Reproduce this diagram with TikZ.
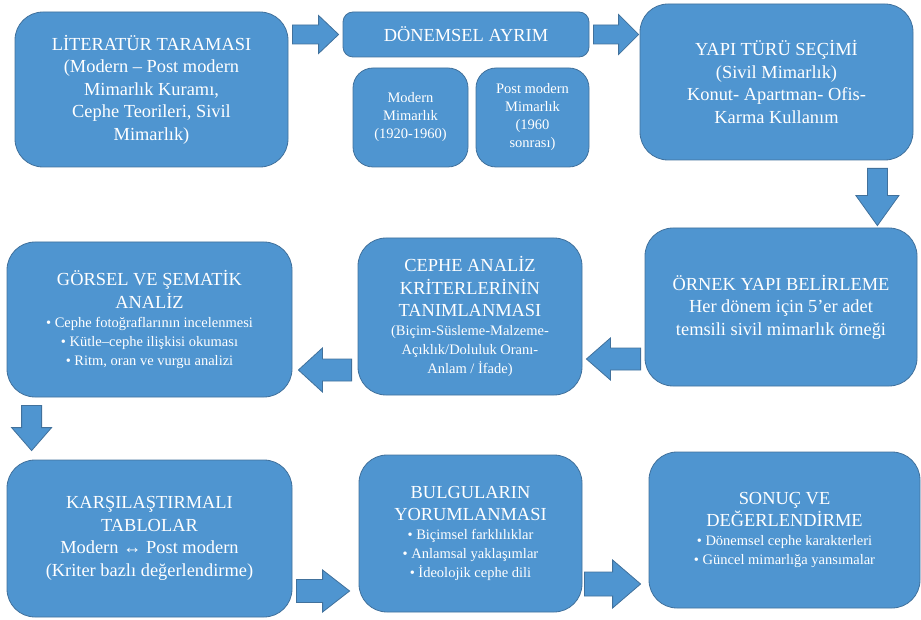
\documentclass[tikz,border=0pt]{standalone}
\usepackage{fontspec}
\setmainfont{Liberation Serif}
\usetikzlibrary{calc}

\setlength{\parindent}{0pt}
\definecolor{boxblue}{RGB}{79,149,208}
\definecolor{boxline}{RGB}{65,113,156}
\newcommand{\subtext}{\fontsize{14.5}{19}\selectfont}

% block arrow: from, tip, shaft half width, head half width, head length
\newcommand{\blockarrow}[5]{%
    \coordinate (neck) at ($(#2)!#5pt!(#1)$);
    \draw[blockarrow] ($(#1)!#3pt!90:(#2)$) -- ($(neck)!#3pt!90:(#2)$)
        -- ($(neck)!#4pt!90:(#2)$) -- (#2) -- ($(neck)!#4pt!-90:(#2)$)
        -- ($(neck)!#3pt!-90:(#2)$) -- ($(#1)!#3pt!-90:(#2)$) -- cycle;}

\begin{document}
\begin{tikzpicture}[x=1pt, y=-1pt,
    box/.style={draw=boxline, fill=boxblue, line width=0.8pt, rounded corners=28pt,
        text=white, align=flush center, inner sep=0pt,
        font=\fontsize{18.4}{22.5}\selectfont},
    blockarrow/.style={draw=boxline, fill=boxblue, line width=0.8pt, line join=miter}]
    \useasboundingbox (0,0) rectangle (921,620);

    % top row
    \node[box, minimum width=273pt, minimum height=155pt, text width=263pt] (lit) at (151.5,89.5)
        {LİTERATÜR TARAMASI\\(Modern – Post modern\\Mimarlık Kuramı,\\Cephe Teorileri, Sivil\\Mimarlık)};
    \node[box, rounded corners=10pt, minimum width=246pt, minimum height=45pt, text width=236pt] (don) at (466,34.5)
        {DÖNEMSEL AYRIM};
    \node[box, rounded corners=20pt, font=\fontsize{14.5}{18}\selectfont,
        minimum width=115pt, minimum height=99pt, text width=109pt] (mod) at (410.5,117.5)
        {Modern\\Mimarlık\\(1920-1960)};
    \node[box, rounded corners=20pt, font=\fontsize{14.5}{18}\selectfont,
        minimum width=113pt, minimum height=99pt, text width=107pt] (pmod) at (532.5,117.5)
        {Post modern\\Mimarlık\\(1960\\sonrası)};
    \node[box, minimum width=273pt, minimum height=156pt, text width=263pt] (yapi) at (776.5,82)
        {YAPI TÜRÜ SEÇİMİ\\(Sivil Mimarlık)\\Konut- Apartman- Ofis-\\Karma Kullanım};

    % middle row
    \node[box, minimum width=272pt, minimum height=158pt, text width=262pt] (ornek) at (781,307)
        {ÖRNEK YAPI BELİRLEME\\Her dönem için 5’er adet\\temsili sivil mimarlık örneği};
    \node[box, minimum width=224pt, minimum height=157pt, text width=216pt] (cephe) at (470,316.5)
        {CEPHE ANALİZ\\KRİTERLERİNİN\\TANIMLANMASI\par
        {\subtext (Biçim-Süsleme-Malzeme-\\Açıklık/Doluluk Oranı-\\Anlam / İfade)\par}};
    \node[box, minimum width=285pt, minimum height=155pt, text width=275pt] (gorsel) at (149.5,319.5)
        {GÖRSEL VE ŞEMATİK\\ANALİZ\par
        {\subtext • Cephe fotoğraflarının incelenmesi\\• Kütle–cephe ilişkisi okuması\\• Ritm, oran ve vurgu analizi\par}};

    % bottom row
    \node[box, minimum width=285pt, minimum height=157pt, text width=275pt] (kars) at (149.5,538.5)
        {KARŞILAŞTIRMALI\\TABLOLAR\\Modern ↔ Post modern\\(Kriter bazlı değerlendirme)};
    \node[box, minimum width=223pt, minimum height=157pt, text width=215pt] (bulg) at (470.5,533.5)
        {BULGULARIN\\YORUMLANMASI\par
        {\subtext • Biçimsel farklılıklar\\• Anlamsal yaklaşımlar\\• İdeolojik cephe dili\par}};
    \node[box, minimum width=271pt, minimum height=156pt, text width=261pt] (sonuc) at (784.5,530)
        {SONUÇ VE\\DEĞERLENDİRME\par
        {\subtext • Dönemsel cephe karakterleri\\• Güncel mimarlığa yansımalar\par}};

    % arrows
    \coordinate (a1s) at ($(lit.east |- don.center)+(4,0)$);
    \coordinate (a1t) at ($(don.west)+(-4,0)$);
    \blockarrow{a1s}{a1t}{9.5}{19}{20}
    \coordinate (a2s) at ($(don.east)+(4,0)$);
    \coordinate (a2t) at ($(yapi.west |- don.center)+(-1,0)$);
    \blockarrow{a2s}{a2t}{9.5}{20}{20}
    \coordinate (a3s) at ($(yapi.south east)+(-36,8)$);
    \coordinate (a3t) at ($(ornek.north east)+(-40,-2)$);
    \blockarrow{a3s}{a3t}{10}{21.5}{30}
    \coordinate (a4s) at ($(ornek.west)+(-4,52)$);
    \coordinate (a4t) at ($(cephe.east |- a4s)+(4,0)$);
    \blockarrow{a4s}{a4t}{11}{21}{24}
    \coordinate (a5s) at ($(cephe.west)+(-6,53.5)$);
    \coordinate (a5t) at ($(gorsel.east |- a5s)+(6,0)$);
    \blockarrow{a5s}{a5t}{11}{22}{24}
    \coordinate (a6s) at ($(gorsel.south west)+(25,8)$);
    \coordinate (a6t) at ($(kars.north west)+(25,-9)$);
    \blockarrow{a6s}{a6t}{10}{20}{23}
    \coordinate (a7s) at ($(kars.east)+(4,52.5)$);
    \coordinate (a7t) at ($(bulg.west |- a7s)+(-9,0)$);
    \blockarrow{a7s}{a7t}{11.5}{21}{27}
    \coordinate (a8s) at ($(bulg.east)+(2,50.5)$);
    \coordinate (a8t) at ($(sonuc.west |- a8s)+(-8,0)$);
    \blockarrow{a8s}{a8t}{12}{24}{28}
\end{tikzpicture}
\end{document}
